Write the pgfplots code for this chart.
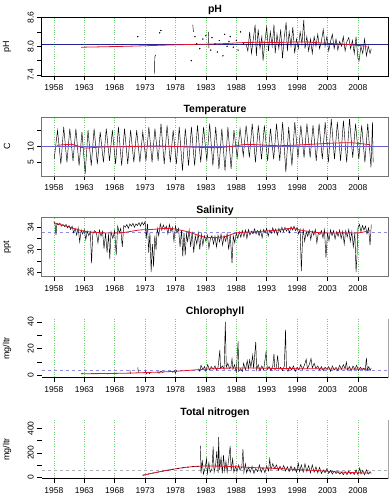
\documentclass[border=0pt]{standalone}
\usepackage{pgfplots}
\pgfplotsset{compat=1.18}
\usepackage{fontspec}
\setmainfont{Liberation Sans}
\definecolor{gridgreen}{RGB}{115,205,115}
\definecolor{navyline}{RGB}{35,35,150}
\definecolor{purpline}{RGB}{105,95,205}
\definecolor{lavline}{RGB}{140,140,225}
\definecolor{grayline}{RGB}{175,175,185}
\definecolor{trendred}{RGB}{230,20,40}
\pgfplotsset{
  panel/.style={
    scale only axis, width=346.6pt, height=59pt,
    xmin=1956, xmax=2013,
    xtick={1958,1963,1968,1973,1978,1983,1988,1993,1998,2003,2008},
    xtick pos=bottom, ytick pos=left,
    /pgf/number format/1000 sep={},
    /pgf/number format/assume math mode=true,
    xticklabel style={font=\fontsize{8.5}{9}\selectfont, yshift=-1pt},
    yticklabel style={rotate=90, anchor=south, font=\fontsize{8.5}{9}\selectfont},
    tick align=outside, major tick length=4.5pt,
    tick style={black, line width=0.5pt},
    xmajorgrids, ymajorgrids=false,
    grid style={gridgreen, dash pattern=on 0.8pt off 1.6pt, line width=0.5pt},
    axis line style={black!55, line width=0.5pt},
    every axis title shift=0pt,
    title style={at={(0.5,1)}, anchor=base, yshift=4.5pt, font=\fontsize{10.5}{12}\selectfont\bfseries},
    ylabel style={at={(axis description cs:-0.1,0.5)}, anchor=center, font=\fontsize{9}{10}\selectfont},
    unbounded coords=jump,
    clip=true,
  },
  dat/.style={black, line width=0.45pt},
  trend/.style={trendred, line width=0.8pt, smooth},
}
\begin{document}
\begin{tikzpicture}
\useasboundingbox (0,0) rectangle (391pt,500pt);
% ---------------- pH ----------------
\begin{axis}[panel, at={(41.7pt,424pt)}, anchor=south west,
  ymin=7.38, ymax=8.61, ytick={7.4,7.7,8.0,8.3,8.6}, yticklabels={7.4,,8.0,,8.6},
  title={pH}, ylabel={pH}, axis line style={black, line width=0.5pt}]
\addplot[navyline, line width=0.8pt] coordinates {(1956,8.04) (2013,8.04)};
\addplot[dat] coordinates {
(1974.55,7.42)(1974.6,7.78)(1974.75,7.82)(1974.8,nan)
(1980.85,8.45)(1980.95,8.3)(1981.0,nan)
(1983.4,8.3)(1983.5,7.96)(1983.6,nan)
(1989.6,8.05)(1989.9,7.9)(1990.2,8.3)(1990.5,7.85)(1990.8,8.15)(1991.1,8.45)(1991.3,7.8)(1991.6,8.35)(1991.9,7.95)
(1992.2,8.2)(1992.4,7.7)(1992.7,8.1)(1993.0,8.4)(1993.3,7.9)(1993.6,8.3)(1993.9,8.0)(1994.2,8.45)(1994.4,7.85)
(1994.7,8.25)(1995.0,7.95)(1995.3,8.35)(1995.6,7.75)(1995.9,8.2)(1996.2,8.5)(1996.4,7.9)(1996.7,8.3)(1997.0,8.0)
(1997.3,8.4)(1997.6,7.85)(1997.9,8.15)(1998.2,7.95)(1998.5,8.3)(1998.8,8.05)(1999.1,8.55)(1999.3,7.95)(1999.6,8.2)
(1999.9,7.9)(2000.2,8.15)(2000.5,7.85)(2000.8,8.2)(2001.1,8.0)(2001.4,8.25)(2001.7,7.95)(2002.0,8.1)(2002.3,8.35)
(2002.6,8.0)(2002.9,8.2)(2003.2,7.9)(2003.5,8.1)(2003.8,8.25)(2004.1,7.95)(2004.4,8.15)(2004.7,7.92)(2005.0,8.1)
(2005.3,8.0)(2005.6,8.2)(2005.9,7.9)(2006.2,8.1)(2006.5,8.18)(2006.8,7.95)(2007.1,8.12)(2007.4,7.85)(2007.7,8.2)
(2008.0,7.75)(2008.2,7.7)(2008.5,8.0)(2008.8,7.85)(2009.1,8.15)(2009.4,7.8)(2009.7,8.0)(2010.0,7.85)(2010.2,7.95)
};
\addplot[only marks, mark=*, mark size=0.45pt, black] coordinates {
(1971.8,8.2)(1975.4,8.28)(1975.6,8.33)(1980.6,7.7)(1981.5,8.05)(1982.0,7.95)(1982.5,8.15)(1983.0,8.22)
(1983.8,7.92)(1984.0,8.18)(1984.5,8.05)(1985.2,8.12)(1985.8,7.8)(1986.5,8.0)(1986.8,8.1)(1987.0,8.2)
(1987.5,7.98)(1988.3,7.92)(1988.7,8.3)(1989.2,8.05)(1981.2,8.2)(1984.9,7.88)(1986.1,8.25)(1988.0,8.12)
};
\addplot[trend] coordinates {(1962.5,7.98)(1970,8.0)(1978,8.03)(1985,8.05)(1990,8.08)(1995,8.08)(1999,8.09)(2003,8.06)(2006,8.04)(2009.5,8.0)};
\end{axis}
% ---------------- Temperature ----------------
\begin{axis}[panel, at={(41.7pt,324pt)}, anchor=south west,
  ymin=0.8, ymax=19.1, ytick={5,10,15}, yticklabels={5,10,},
  title={Temperature}, ylabel={C}]
\addplot[dat] coordinates {
(1958.05,6.0)(1958.6,15.0)(1959.15,4.5)(1959.62,16.0)(1960.15,5.0)(1960.62,15.5)(1961.15,5.5)(1961.62,15.5)
(1962.15,4.0)(1962.62,14.5)(1963.15,1.5)(1963.62,15.0)(1964.15,4.0)(1964.62,15.5)(1965.15,4.5)(1965.62,14.5)
(1966.15,5.0)(1966.62,15.5)(1967.15,5.5)(1967.62,15.0)(1968.15,4.5)(1968.62,16.0)(1969.15,4.0)(1969.62,15.5)
(1970.15,4.5)(1970.62,15.0)(1971.15,5.0)(1971.62,15.0)(1972.15,5.0)(1972.62,14.5)(1973.15,5.5)(1973.62,16.0)
(1974.15,5.0)(1974.62,15.5)(1975.15,5.5)(1975.62,17.0)(1976.15,4.5)(1976.62,16.5)(1977.15,5.0)(1977.62,15.0)
(1978.15,4.5)(1978.62,16.0)(1979.15,2.5)(1979.62,15.5)(1980.15,4.0)(1980.62,16.0)(1981.15,4.0)(1981.62,16.5)
(1982.15,5.0)(1982.62,16.0)(1983.15,5.5)(1983.62,17.0)(1984.15,4.0)(1984.62,16.0)(1985.15,3.0)(1985.62,15.5)
(1986.15,2.5)(1986.62,16.0)(1987.15,3.0)(1987.62,15.0)(1988.15,6.5)(1988.62,15.5)(1989.15,7.0)(1989.62,16.5)
(1990.15,6.5)(1990.62,17.0)(1991.15,5.0)(1991.62,16.5)(1992.15,6.0)(1992.62,16.5)(1993.15,5.5)(1993.62,15.5)
(1994.15,6.0)(1994.62,17.0)(1995.15,5.5)(1995.62,17.5)(1996.15,2.0)(1996.62,16.0)(1997.15,4.0)(1997.62,17.5)
(1998.15,6.5)(1998.62,16.5)(1999.15,6.5)(1999.62,17.0)(2000.15,6.5)(2000.62,16.5)(2001.15,5.5)(2001.62,17.0)
(2002.15,6.0)(2002.62,17.5)(2003.15,5.0)(2003.62,18.5)(2004.15,6.0)(2004.62,17.5)(2005.15,5.5)(2005.62,18.0)
(2006.15,5.0)(2006.62,18.5)(2007.15,6.5)(2007.62,17.0)(2008.15,6.0)(2008.62,16.5)(2009.15,5.0)(2009.62,17.0)
(2010.15,3.5)(2010.4,17.5)(2010.5,5.0)
};
\addplot[purpline, line width=0.8pt] coordinates {(1956,10.0) (2013,10.0)};
\addplot[trend] coordinates {(1958.5,10.3)(1961,10.6)(1963,9.5)(1966,9.8)(1970,9.9)(1975,10.1)(1980,9.8)(1985,9.6)(1988,10.2)(1990,10.6)(1995,10.2)(2000,10.6)(2004,11.0)(2007,11.1)(2010,10.5)};
\end{axis}
% ---------------- Salinity ----------------
\begin{axis}[panel, at={(41.7pt,223.3pt)}, anchor=south west,
  ymin=25.2, ymax=35.7, ytick={26,28,30,32,34}, yticklabels={26,,30,,34},
  title={Salinity}, ylabel={ppt}]
\addplot[lavline, line width=0.7pt, dashed] coordinates {(1956,33.1) (2013,33.1)};
\addplot[dat] coordinates {
(1958.0,35.0)(1958.2,34.6)(1958.35,32.6)(1958.5,34.7)(1958.75,34.4)
(1959.0,34.7)(1959.25,34.2)(1959.5,34.5)(1959.75,34.1)
(1960.0,34.5)(1960.25,33.9)(1960.5,34.3)(1960.75,33.6)
(1961.0,34.2)(1961.25,33.0)(1961.5,33.8)(1961.75,32.6)
(1962.0,33.9)(1962.25,31.4)(1962.5,33.5)(1962.75,32.8)
(1963.0,33.6)(1963.25,31.8)(1963.5,33.3)(1963.75,32.5)
(1964.0,33.2)(1964.2,27.6)(1964.4,32.8)(1964.7,33.4)
(1965.0,33.0)(1965.25,31.2)(1965.5,33.5)(1965.75,32.4)
(1966.0,33.3)(1966.25,30.2)(1966.5,33.0)(1966.75,29.5)
(1967.0,32.8)(1967.2,28.3)(1967.4,33.2)(1967.7,32.0)
(1968.0,33.4)(1968.25,29.0)(1968.5,34.2)(1968.75,33.0)
(1969.0,33.8)(1969.25,30.5)(1969.5,34.3)(1969.75,34.0)
(1970.0,34.5)(1970.25,33.8)(1970.5,34.6)(1970.75,34.2)
(1971.0,34.7)(1971.25,34.0)(1971.5,34.6)(1971.75,34.3)
(1972.0,34.8)(1972.25,34.2)(1972.5,34.9)(1972.75,34.4)
(1973.0,35.0)(1973.2,32.0)(1973.4,34.6)(1973.6,29.5)(1973.8,33.0)
(1974.0,26.0)(1974.2,31.0)(1974.4,27.0)(1974.6,32.5)(1974.8,30.0)
(1975.0,33.8)(1975.25,32.5)(1975.5,34.6)(1975.75,33.5)
(1976.0,34.4)(1976.25,33.6)(1976.5,34.2)(1976.75,32.8)
(1977.0,34.5)(1977.25,33.2)(1977.5,34.0)(1977.75,31.5)
(1978.0,34.2)(1978.25,33.0)(1978.5,33.8)(1978.75,30.5)
(1979.0,33.5)(1979.2,28.8)(1979.4,33.0)(1979.6,29.0)(1979.8,32.8)
(1980.0,31.5)(1980.25,33.5)(1980.5,30.5)(1980.75,33.2)
(1981.0,29.5)(1981.25,32.5)(1981.5,31.0)(1981.75,33.0)
(1982.0,30.0)(1982.25,32.8)(1982.5,30.8)(1982.75,32.5)
(1983.0,31.5)(1983.25,32.6)(1983.5,30.2)(1983.75,32.0)
(1984.0,32.5)(1984.25,31.0)(1984.5,32.4)(1984.75,30.5)
(1985.0,32.6)(1985.25,31.4)(1985.5,32.8)(1985.75,30.8)
(1986.0,32.5)(1986.25,31.5)(1986.5,32.9)(1986.75,30.0)
(1987.0,32.7)(1987.3,27.6)(1987.5,32.5)(1987.75,31.2)
(1988.0,33.0)(1988.25,32.0)(1988.5,33.2)(1988.75,32.2)
(1989.0,33.4)(1989.25,32.3)(1989.5,33.5)(1989.75,32.0)
(1990.0,33.6)(1990.25,32.6)(1990.5,33.3)(1990.75,32.8)
(1991.0,33.7)(1991.25,32.8)(1991.5,33.4)(1991.75,32.5)
(1992.0,33.5)(1992.25,32.1)(1992.5,33.6)(1992.75,33.0)
(1993.0,33.8)(1993.25,32.4)(1993.5,33.5)(1993.75,32.9)
(1994.0,33.9)(1994.25,33.0)(1994.5,33.7)(1994.75,32.6)
(1995.0,33.8)(1995.25,33.1)(1995.5,34.0)(1995.75,33.2)
(1996.0,34.0)(1996.25,33.3)(1996.5,33.8)(1996.75,33.0)
(1997.0,34.1)(1997.25,33.5)(1997.5,34.2)(1997.75,33.4)
(1998.0,34.0)(1998.25,32.8)(1998.5,33.6)(1998.7,26.2)(1998.9,32.0)
(1999.0,33.8)(1999.25,31.5)(1999.5,33.2)(1999.75,32.4)
(2000.0,33.5)(2000.25,31.8)(2000.5,33.3)(2000.75,32.6)
(2001.0,33.6)(2001.25,31.2)(2001.5,33.0)(2001.75,32.7)
(2002.0,33.4)(2002.25,32.1)(2002.5,33.6)(2002.75,28.6)
(2003.0,33.0)(2003.25,31.6)(2003.5,33.5)(2003.75,32.5)
(2004.0,33.4)(2004.25,31.9)(2004.5,33.2)(2004.75,32.4)
(2005.0,33.5)(2005.25,32.0)(2005.5,33.3)(2005.75,31.0)
(2006.0,33.4)(2006.25,32.3)(2006.5,33.6)(2006.75,31.5)
(2007.0,33.2)(2007.25,30.5)(2007.5,33.0)(2007.7,26.0)(2007.85,29.0)
(2008.0,33.8)(2008.25,34.5)(2008.5,33.2)(2008.75,34.3)
(2009.0,33.5)(2009.25,34.2)(2009.5,32.8)(2009.75,33.9)
(2010.0,30.8)(2010.2,34.5)
};
\addplot[trend] coordinates {(1958,34.8)(1960,34.2)(1963,33.3)(1966,33.0)(1969,33.0)(1972,33.5)(1974,33.6)(1977,33.8)(1980,33.2)(1983,32.2)(1986,32.3)(1988,33.0)(1991,33.2)(1995,33.5)(1997,33.8)(1999,33.4)(2002,33.0)(2005,33.0)(2008,33.0)(2010,33.4)};
\end{axis}
% ---------------- Chlorophyll ----------------
\begin{axis}[panel, at={(41.7pt,122.7pt)}, anchor=south west, height=58pt,
  ymin=-1.5, ymax=42, ytick={0,10,20,30,40}, yticklabels={0,,20,,40},
  title={Chlorophyll}, ylabel={mg/ltr}, axis line style={draw=none}]
\addplot[lavline, line width=0.7pt, dashed] coordinates {(1956,4.0) (2013,4.0)};
\addplot[dat] coordinates {
(1962.5,1.5)(1962.8,1.2)(1962.9,nan)
(1966.5,1.3)(1967.0,1.0)(1967.1,nan)
(1970.5,4.0)(1970.6,1.0)(1970.7,nan)
(1971.8,6.0)(1971.9,2.0)(1972.0,nan)
(1973.0,3.5)(1973.2,1.2)(1973.5,2.5)(1973.8,1.0)(1973.9,nan)
(1975.0,2.5)(1975.3,1.5)(1975.6,3.0)(1976.0,1.8)(1976.1,nan)
(1977.5,2.0)(1977.8,3.5)(1978.0,1.5)(1978.2,3.8)(1978.3,nan)
(1981.8,5.0)(1982.0,3.0)(1982.2,7.5)(1982.5,4.5)(1982.8,6.5)(1983.0,3.0)(1983.3,8.0)(1983.6,4.0)(1983.9,6.5)
(1984.2,4.5)(1984.5,7.0)(1984.8,4.0)(1985.0,6.0)(1985.3,19.0)(1985.4,5.0)(1985.7,7.0)(1986.0,4.5)(1986.2,40.0)
(1986.35,6.0)(1986.6,9.0)(1986.9,5.0)(1987.1,6.0)(1987.3,12.5)(1987.45,4.5)(1987.7,8.0)(1988.0,2.5)(1988.3,25.5)
(1988.4,3.0)(1988.7,5.0)(1989.0,3.0)(1989.2,9.0)(1989.5,4.0)(1989.8,11.0)(1990.0,5.0)(1990.2,11.5)(1990.4,6.0)
(1990.7,15.0)(1990.85,5.0)(1991.2,25.0)(1991.35,4.0)(1991.6,8.0)(1991.9,3.5)(1992.2,7.0)(1992.5,4.0)(1992.9,17.5)
(1993.1,4.5)(1993.4,6.5)(1993.7,3.5)(1994.0,7.0)(1994.2,16.0)(1994.35,4.0)(1994.6,6.0)(1994.8,15.0)(1995.0,4.5)
(1995.3,6.0)(1995.6,3.5)(1995.9,7.0)(1996.1,34.0)(1996.25,5.0)(1996.5,3.0)(1996.8,6.5)(1997.1,4.0)(1997.4,7.0)
(1997.7,3.0)(1998.0,6.0)(1998.3,4.0)(1998.6,8.0)(1998.9,4.5)(1999.2,7.5)(1999.5,12.0)(1999.7,5.0)(2000.0,8.0)
(2000.3,12.5)(2000.5,5.5)(2000.8,9.0)(2001.1,5.0)(2001.4,7.0)(2001.7,4.0)(2002.0,6.5)(2002.3,3.5)(2002.6,6.0)
(2002.9,4.5)(2003.2,6.5)(2003.5,3.0)(2003.8,7.0)(2004.1,4.0)(2004.4,6.0)(2004.7,3.5)(2005.0,7.5)(2005.3,4.5)
(2005.6,8.0)(2005.9,5.0)(2006.1,10.0)(2006.3,4.0)(2006.6,6.5)(2006.9,3.5)(2007.2,7.0)(2007.5,4.5)(2007.8,7.5)
(2008.1,3.5)(2008.4,6.0)(2008.7,4.5)(2009.0,5.5)(2009.2,3.5)(2009.4,13.0)(2009.55,4.0)(2009.8,6.5)(2010.0,3.5)(2010.2,5.5)
};
\addplot[trend] coordinates {(1962.5,1.2)(1966,1.3)(1970,1.6)(1974,2.2)(1978,3.0)(1982,4.3)(1986,5.3)(1990,5.5)(1995,5.1)(2000,4.9)(2005,4.7)(2010,4.6)};
\draw[black, line width=0.5pt] (rel axis cs:0,0) -- (rel axis cs:1,0) -- (rel axis cs:1,1);
\end{axis}
% ---------------- Total nitrogen ----------------
\begin{axis}[panel, at={(41.7pt,21.7pt)}, anchor=south west, height=58pt,
  ymin=-10, ymax=468, ytick={0,100,200,300,400}, yticklabels={0,,200,,400},
  title={Total nitrogen}, ylabel={mg/ltr}, axis line style={draw=none}]
\addplot[grayline, line width=0.7pt, dashed] coordinates {(1956,55) (2013,55)};
\addplot[dat] coordinates {
(1982.1,260)(1982.2,30)(1982.4,140)(1982.6,25)(1982.9,80)(1983.1,150)(1983.25,30)(1983.5,120)(1983.7,40)
(1984.0,70)(1984.2,250)(1984.35,40)(1984.6,100)(1984.8,215)(1985.0,35)(1985.1,330)(1985.25,60)(1985.5,160)
(1985.7,30)(1985.9,180)(1986.1,50)(1986.3,130)(1986.5,40)(1986.8,170)(1987.0,256)(1987.15,50)(1987.4,150)
(1987.6,40)(1987.9,90)(1988.1,45)(1988.4,100)(1988.6,60)(1988.9,80)(1989.1,230)(1989.25,40)(1989.5,110)
(1989.7,35)(1990.0,80)(1990.3,40)(1990.6,90)(1990.9,30)(1991.2,70)(1991.5,45)(1991.8,100)(1992.1,40)
(1992.4,80)(1992.7,35)(1993.0,90)(1993.3,50)(1993.5,150)(1993.7,60)(1994.0,110)(1994.3,70)(1994.6,100)
(1994.9,55)(1995.2,90)(1995.5,60)(1995.8,95)(1996.1,50)(1996.4,85)(1996.7,45)(1997.0,90)(1997.3,50)
(1997.6,80)(1997.9,40)(1998.2,115)(1998.4,45)(1998.7,100)(1999.0,40)(1999.3,110)(1999.6,45)(1999.9,95)
(2000.2,35)(2000.5,100)(2000.8,40)(2001.1,85)(2001.4,35)(2001.7,80)(2002.0,30)(2002.3,60)(2002.6,35)
(2002.9,70)(2003.2,30)(2003.5,55)(2003.8,25)(2004.1,50)(2004.4,30)(2004.7,45)(2005.0,25)(2005.3,40)
(2005.6,20)(2005.9,45)(2006.2,20)(2006.5,50)(2006.8,25)(2007.1,40)(2007.4,20)(2007.7,60)(2008.0,20)
(2008.3,75)(2008.5,25)(2008.8,55)(2009.1,20)(2009.4,60)(2009.7,25)(2010.0,45)(2010.2,30)
};
\addplot[trend] coordinates {(1972.6,15)(1974,30)(1976,50)(1978,68)(1980,82)(1982,90)(1984,91)(1986,89)(1988,85)(1990,80)(1995,70)(2000,57)(2005,42)(2010,32)};
\addplot[black, line width=0.5pt, dash pattern=on 2pt off 3pt, smooth] coordinates {(1972.6,15)(1974,30)(1976,50)(1978,68)(1980,82)(1982,90)};
\draw[black, line width=0.5pt] (rel axis cs:0,0) -- (rel axis cs:1,0) -- (rel axis cs:1,1);
\end{axis}
\end{tikzpicture}
\end{document}
